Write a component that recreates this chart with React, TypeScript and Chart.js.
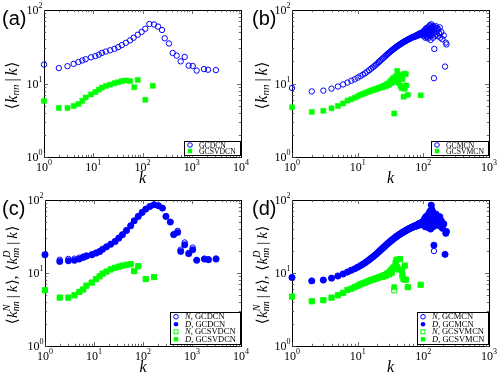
import React, { useEffect, useRef } from 'react';
import { Chart, registerables } from 'chart.js';
Chart.register(...registerables);

// ---------------- data ----------------
// panel (a)
const aBlueK = [1, 2, 3, 4, 5, 6, 7, 9, 11, 13, 15, 18, 22, 27, 32, 38, 46, 56, 66, 80, 96, 114, 138, 171, 207, 249, 282, 345, 410, 494, 596, 718, 866, 1045, 1259, 1774, 2138, 3093];
const aBlueY = [18.1, 16.2, 17.2, 18.5, 19.6, 20.6, 21.4, 22.7, 23.6, 24.7, 26.1, 27.2, 28.3, 29.6, 31.2, 33.3, 35.8, 38.6, 41.9, 46.1, 50.3, 55.6, 64.5, 63.5, 59.5, 53.5, 41.2, 35, 26, 24, 20, 23, 17.5, 17.3, 15, 15.7, 15.4, 15.2];
const aGreenK = [1, 2, 3, 4, 5, 6, 7, 9, 11, 13, 15, 18, 22, 27, 32, 38, 46, 56, 68, 80, 114, 161];
const aGreenY = [5.8, 4.65, 4.65, 4.95, 5.25, 5.8, 6.45, 7.1, 7.65, 8.25, 8.8, 9.25, 9.65, 10.1, 10.4, 10.8, 11.0, 10.8, 8.9, 11.2, 6.0, 9.3];

// panel (c)
const cBlueK = [1, 2, 3, 4, 5, 6, 7, 9, 11, 13, 15, 18, 22, 27, 32, 38, 46, 56, 66, 80, 96, 114, 138, 168, 207, 249, 294, 361, 423, 509, 588, 710, 857, 1033, 1247, 1790, 2170, 3100];
const cBlueDY = [17.8, 14.4, 14.7, 14.9, 15.5, 16.3, 17, 17.7, 18.7, 19.6, 21.1, 22.8, 24.8, 27, 30, 33.4, 38.2, 44.3, 51.8, 59.5, 67.5, 75, 81.5, 86, 83.4, 77.4, 59.5, 49.8, 33.5, 36, 19.7, 24.4, 18.4, 20.8, 14.9, 15.5, 15.2, 15.5];
const cBlueNY = [17.8, 15.2, 15.6, 15.7, 16.2, 16.8, 17.4, 18.1, 19.0, 19.9, 21.3, 23.0, 25.0, 27.2, 30.2, 33.6, 38.4, 44.5, 52, 59.8, 67.8, 75.3, 81.8, 86.3, 83.6, 77.6, 60, 50.3, 34, 37.8, 20.9, 26.2, 18.8, 22.3, 15.1, 15.7, 15.4, 15.8];
const cGreenK = [1, 2, 3, 4, 5, 6, 7, 9, 11, 13, 15, 18, 22, 27, 32, 38, 46, 56, 66, 80, 114, 168];
const cGreenDY = [5.8, 4.6, 4.6, 4.95, 5.5, 5.95, 6.7, 7.4, 8.25, 9.0, 9.8, 10.45, 11.2, 11.8, 12.2, 12.6, 12.95, 13.2, 10.6, 12.4, 8.25, 8.8];
const cGreenNY = [5.8, 4.6, 4.6, 4.95, 5.5, 5.95, 6.7, 7.4, 8.25, 9.0, 9.8, 10.45, 11.2, 11.8, 12.2, 12.6, 12.95, 13.2, 10.6, 12.4, 8.25, 8.8];

// panels (b) and (d): degree-by-degree values
const bodyK = [1, 2, 3, 4, 5, 6, 7, 8, 9, 10, 11, 12, 13, 14, 15, 16, 17, 18, 19, 20, 21, 22, 23, 24, 25, 26, 27, 28, 29, 30, 31, 32, 33, 34, 35, 36, 37, 38, 39, 40, 41, 42, 43, 44, 45, 46, 47, 48, 49, 50, 51, 52, 53, 54, 55, 56, 57, 58, 59, 60, 61, 62, 63, 64, 65, 66, 67, 68, 69, 70, 71, 72, 73, 74, 75, 76, 77, 78, 79, 80, 81, 82, 83, 84, 85, 86, 87, 88, 89, 90, 91, 92, 93, 94, 95, 96, 97, 98, 99, 100];
const bodyBlueY = [
  8.7, 7.8, 8.0, 8.5, 9.1, 9.7, 10.3, 10.9, 11.4, 12.0,
  12.6, 13.2, 13.8, 14.5, 15.2, 15.9, 16.6, 17.3, 18.0, 18.8,
  19.6, 20.3, 21.1, 21.8, 22.6, 23.3, 24.1, 24.8, 25.5, 26.2,
  26.8, 27.5, 28.1, 28.7, 29.3, 29.9, 30.5, 31.0, 31.6, 32.1,
  32.6, 33.1, 33.6, 34.0, 34.5, 34.9, 35.3, 35.8, 36.2, 36.6,
  37.0, 37.3, 37.7, 38.1, 38.4, 38.8, 39.1, 39.5, 39.8, 40.1,
  40.4, 40.7, 41.0, 41.4, 41.6, 41.9, 42.2, 42.5, 42.7, 43.0,
  43.3, 42.8, 43.8, 43.4, 44.3, 43.7, 44.8, 44.2, 45.2, 44.5,
  45.7, 45.0, 46.4, 45.3, 47.0, 45.5, 47.6, 46.1, 46.7, 48.3,
  45.8, 47.4, 48.8, 46.3, 48.1, 49.5, 46.6, 48.7, 50.3, 47.2
];
const bTailK = [101, 102, 103, 104, 105, 106, 107, 108, 109, 110, 111, 112, 113, 114, 115, 116, 117, 118, 119, 120, 121, 122, 123, 124, 125, 126, 127, 128, 129, 130, 131, 132, 133, 134, 135, 137, 138, 140, 141, 143, 145, 146, 147, 149, 151, 153, 156, 158, 160, 163, 166, 170, 174, 178, 182, 188, 195, 205, 214, 220, 225];
const bTailY = [51, 44, 48, 53, 46, 50, 42, 55, 47, 52, 45, 57, 49, 43, 54, 48, 51, 41, 58, 46, 53, 49, 60, 44, 55, 62, 47, 52, 39, 57, 50, 64, 45, 55, 59, 48, 53, 61, 42, 56, 11.8, 50, 29.5, 58, 45, 55, 60, 47, 52, 57, 44, 54, 48, 58, 42, 50, 40, 45, 17, 36, 34];
const dTailK = [101, 102, 103, 104, 105, 106, 107, 108, 109, 110, 111, 112, 113, 114, 115, 116, 117, 118, 119, 120, 121, 122, 123, 124, 125, 126, 127, 128, 129, 130, 131, 132, 133, 134, 135, 137, 138, 140, 141, 143, 145, 146, 149, 151, 153, 156, 158, 160, 163, 166, 170, 174, 178, 182, 188, 195, 205, 214, 220, 225];
const dTailDY = [52, 45, 49, 55, 47, 51, 43, 58, 48, 54, 46, 60, 50, 44, 57, 49, 53, 42, 63, 47, 55, 50, 66, 45, 58, 70, 48, 54, 40, 62, 51, 85, 46, 57, 74, 49, 55, 68, 43, 59, 24, 52, 61, 46, 57, 64, 48, 53, 60, 45, 56, 50, 59, 44, 52, 41, 47, 18, 35, 37];
const dTailNY = [52, 45, 49, 55, 47, 51, 43, 58, 48, 54, 46, 60, 50, 44, 57, 49, 53, 42, 63, 47, 55, 50, 66, 45, 58, 70, 48, 54, 40, 62, 51, 85, 46, 57, 74, 49, 55, 68, 43, 59, 20, 52, 61, 46, 57, 64, 48, 53, 60, 45, 56, 50, 59, 44, 52, 41, 47, 18, 35, 37];

const greenBodyK = [1, 2, 3, 4, 5, 6, 7, 8, 9, 10, 11, 12, 13, 14, 15, 16, 17, 18, 19, 20, 21, 22, 23, 24, 25, 26, 27, 28, 29, 30, 31, 32, 33, 34, 35];
const greenBodyY = [4.75, 4.1, 4.25, 4.6, 4.95, 5.35, 5.85, 6.1, 6.4, 6.7, 7.0, 7.2, 7.4, 7.6, 7.8, 8.0, 8.1, 8.3, 8.4, 8.5, 8.7, 8.8, 9.0, 8.9, 9.3, 9.4, 9.2, 9.8, 10.0, 9.6, 10.4, 10.9, 10.1, 11.4, 11.9];
const bGreenTailK = [36, 37, 38, 39, 40, 41, 42, 44, 45, 47, 48, 50, 51, 52, 54, 55, 58, 91];
const bGreenTailY = [3.9, 10.7, 12.5, 11.3, 14.8, 11.6, 10.2, 13.0, 9.3, 8.6, 11.5, 6.6, 13.6, 8.5, 13.4, 9.4, 7.0, 6.9];
const dGreenTailK = [36, 37, 38, 39, 40, 42, 44, 47, 48, 50, 52, 54, 58, 91];
const dGreenTailDY = [6.4, 12.3, 13.8, 15.2, 12.0, 11.2, 15.5, 11.0, 9.5, 8.2, 12.6, 8.1, 6.4, 6.9];
const dGreenTailNY = [5.8, 12.3, 13.8, 15.2, 12.0, 11.2, 15.5, 11.0, 9.0, 8.2, 12.6, 8.1, 6.4, 6.9];

// tick exponents (labels 10^e)
const xExpWide = [0, 1, 2, 3, 4];
const xExpNarrow = [0, 1, 2, 3];
const yExp = [0, 1, 2];

// ---------------- helpers ----------------
const BLUE = '#0000ff';
const GREEN = '#00ff00';
const SERIF = '"Liberation Serif", "DejaVu Serif", serif';

type Pt = { x: number; y: number };
const pts = (k: number[], y: number[]): Pt[] => k.map((x, i) => ({ x, y: y[i] }));

type Style = 'oc' | 'fc' | 'os' | 'fs';
function ds(data: Pt[], st: Style) {
  const circle = st[1] === 'c';
  const filled = st[0] === 'f';
  const color = circle ? BLUE : GREEN;
  return {
    data,
    showLine: false,
    clip: false as any,
    pointStyle: circle ? 'circle' : 'rect',
    pointRadius: circle ? (filled ? 3.2 : 2.7) : 3.6,
    pointBorderWidth: filled ? 0.5 : 1,
    pointBackgroundColor: filled ? color : 'rgba(0,0,0,0)',
    pointBorderColor: color,
    borderColor: color,
    backgroundColor: color,
  };
}

type Run = { t: string; sz: number; it?: boolean; dy?: number; adv?: boolean; gap?: number };
const runFont = (r: Run) => `${r.it ? 'italic ' : ''}${r.sz}px ${SERIF}`;
function runsWidth(ctx: CanvasRenderingContext2D, runs: Run[]) {
  let w = 0;
  for (const r of runs) {
    ctx.font = runFont(r);
    if (r.adv !== false) w += ctx.measureText(r.t).width + (r.gap || 0);
  }
  return w;
}
function drawRuns(ctx: CanvasRenderingContext2D, runs: Run[], x: number, y: number) {
  let cx = x;
  for (const r of runs) {
    ctx.font = runFont(r);
    ctx.fillText(r.t, cx, y + (r.dy || 0));
    if (r.adv !== false) cx += ctx.measureText(r.t).width + (r.gap || 0);
  }
}
function knnRuns(sz: number, sup?: string): Run[] {
  const sub = Math.round(sz * 0.68);
  const r: Run[] = [
    { t: '⟨', sz, gap: 0.5 },
    { t: 'k', sz, it: true },
  ];
  if (sup) r.push({ t: sup, sz: sub, it: true, dy: -sz * 0.38, adv: false });
  r.push({ t: 'nn', sz: sub, it: true, dy: sz * 0.22, gap: 3 });
  r.push({ t: '|', sz, gap: 3 });
  r.push({ t: 'k', sz, it: true, gap: 0.5 });
  r.push({ t: '⟩', sz });
  return r;
}

type Series = { data: Pt[]; style: Style; pre?: string; name: string };
type Panel = {
  tag: string; x: number; y: number; w: number; h: number;
  area: { left: number; right: number; top: number; bottom: number };
  xMaxExp: number; xExp: number[]; double: boolean; legendFont: number; rowH: number;
  series: Series[];
};

function decor(p: Panel) {
  return {
    id: 'decor' + p.tag,
    beforeDatasetsDraw(chart: any) {
      const { ctx, chartArea: a, scales } = chart;
      ctx.save();
      ctx.strokeStyle = '#000';
      ctx.lineWidth = 1;
      ctx.strokeRect(a.left + 0.5, a.top + 0.5, a.right - a.left, a.bottom - a.top);
      ctx.strokeStyle = '#444';
      ctx.lineWidth = 0.8;
      ctx.beginPath();
      for (let e = 0; e < p.xMaxExp; e++) {
        for (let m = 1; m <= 9; m++) {
          const px = Math.round(scales.x.getPixelForValue(m * 10 ** e)) + 0.5;
          const len = m === 1 ? 4 : 2.2;
          ctx.moveTo(px, a.bottom); ctx.lineTo(px, a.bottom - len);
          ctx.moveTo(px, a.top); ctx.lineTo(px, a.top + len);
        }
      }
      for (let e = 0; e < 2; e++) {
        for (let m = 1; m <= 9; m++) {
          const py = Math.round(scales.y.getPixelForValue(m * 10 ** e)) + 0.5;
          const len = m === 1 ? 4 : 2.2;
          ctx.moveTo(a.left, py); ctx.lineTo(a.left + len, py);
          ctx.moveTo(a.right, py); ctx.lineTo(a.right - len, py);
        }
      }
      ctx.stroke();
      ctx.restore();
    },
    afterDraw(chart: any) {
      const { ctx, chartArea: a, scales } = chart;
      ctx.save();
      ctx.fillStyle = '#000';
      ctx.textBaseline = 'middle';
      ctx.textAlign = 'left';
      const baseF = `12px ${SERIF}`;
      const expF = `8px ${SERIF}`;
      // x tick labels
      for (const e of p.xExp) {
        const px = scales.x.getPixelForValue(10 ** e);
        ctx.font = baseF; const w1 = ctx.measureText('10').width;
        ctx.font = expF; const w2 = ctx.measureText(String(e)).width;
        const sx = px - (w1 + w2) / 2;
        ctx.font = baseF; ctx.fillText('10', sx, a.bottom + 11);
        ctx.font = expF; ctx.fillText(String(e), sx + w1, a.bottom + 6);
      }
      // y tick labels
      for (const e of yExp) {
        const py = scales.y.getPixelForValue(10 ** e);
        ctx.font = baseF; const w1 = ctx.measureText('10').width;
        ctx.font = expF; const w2 = ctx.measureText(String(e)).width;
        const sx = a.left - 1.5 - w1 - w2;
        ctx.font = baseF; ctx.fillText('10', sx, py + 1);
        ctx.font = expF; ctx.fillText(String(e), sx + w1, py - 4);
      }
      // x title
      ctx.font = `italic 16px ${SERIF}`;
      ctx.textAlign = 'center';
      ctx.fillText('k', (a.left + a.right) / 2, a.bottom + 22);
      ctx.textAlign = 'left';
      // y title
      const runs: Run[] = p.double
        ? [...knnRuns(15, 'N'), { t: ', ', sz: 15, gap: 1 }, ...knnRuns(15, 'D')]
        : knnRuns(16);
      const tw = runsWidth(ctx, runs);
      ctx.save();
      ctx.translate(13, (a.top + a.bottom) / 2 + 2);
      ctx.rotate(-Math.PI / 2);
      drawRuns(ctx, runs, -tw / 2, 0);
      ctx.restore();
      // panel tag
      ctx.font = `20px "Liberation Sans", Arial, sans-serif`;
      ctx.fillText(`(${p.tag})`, 2, a.top + 9);
      // legend
      const lf = p.legendFont;
      let maxW = 0;
      for (const s of p.series) {
        let w = 0;
        if (s.pre) { ctx.font = `italic ${lf}px ${SERIF}`; w += ctx.measureText(s.pre).width; }
        ctx.font = `${lf}px ${SERIF}`; w += ctx.measureText(s.name).width;
        maxW = Math.max(maxW, w);
      }
      const bw = Math.round(15 + maxW + 4);
      const bh = Math.round(p.series.length * p.rowH + 2);
      const bx = Math.round(a.right - 1 - bw);
      const by = Math.round(a.bottom - 2 - bh);
      ctx.fillStyle = '#fff';
      ctx.fillRect(bx, by, bw, bh);
      ctx.strokeStyle = '#000';
      ctx.lineWidth = 1;
      ctx.strokeRect(bx + 0.5, by + 0.5, bw, bh);
      p.series.forEach((s, i) => {
        const cy = by + 1 + p.rowH * (i + 0.5);
        const mx = bx + 6;
        const circle = s.style[1] === 'c';
        const filled = s.style[0] === 'f';
        const col = circle ? BLUE : GREEN;
        ctx.fillStyle = col; ctx.strokeStyle = col; ctx.lineWidth = 1;
        if (circle) {
          ctx.beginPath(); ctx.arc(mx, cy, 2.3, 0, Math.PI * 2);
          if (filled) ctx.fill(); else ctx.stroke();
        } else {
          if (filled) ctx.fillRect(mx - 2.2, cy - 2.2, 4.4, 4.4);
          else ctx.strokeRect(mx - 2, cy - 2, 4, 4);
        }
        ctx.fillStyle = '#000';
        let tx = bx + 15;
        if (s.pre) {
          ctx.font = `italic ${lf}px ${SERIF}`;
          ctx.fillText(s.pre, tx, cy + 0.5);
          tx += ctx.measureText(s.pre).width;
        }
        ctx.font = `${lf}px ${SERIF}`;
        ctx.fillText(s.name, tx, cy + 0.5);
      });
      ctx.restore();
    },
  };
}

const panels: Panel[] = [
  {
    tag: 'a', x: 0, y: 0, w: 250, h: 189,
    area: { left: 44, right: 241, top: 10, bottom: 157 },
    xMaxExp: 4, xExp: xExpWide, double: false, legendFont: 7.7, rowH: 6,
    series: [
      { data: pts(aBlueK, aBlueY), style: 'oc', name: 'GCDCN' },
      { data: pts(aGreenK, aGreenY), style: 'fs', name: 'GCSVDCN' },
    ],
  },
  {
    tag: 'b', x: 250, y: 0, w: 249, h: 189,
    area: { left: 42, right: 239, top: 10, bottom: 157 },
    xMaxExp: 3, xExp: xExpNarrow, double: false, legendFont: 7.7, rowH: 6,
    series: [
      { data: [...pts(bodyK, bodyBlueY), ...pts(bTailK, bTailY)], style: 'oc', name: 'GCMCN' },
      { data: [...pts(greenBodyK, greenBodyY), ...pts(bGreenTailK, bGreenTailY)], style: 'fs', name: 'GCSVMCN' },
    ],
  },
  {
    tag: 'c', x: 0, y: 189, w: 250, h: 189,
    area: { left: 45, right: 241, top: 11, bottom: 157 },
    xMaxExp: 4, xExp: xExpWide, double: true, legendFont: 8.5, rowH: 7.5,
    series: [
      { data: pts(cBlueK, cBlueNY), style: 'oc', pre: 'N', name: ', GCDCN' },
      { data: pts(cBlueK, cBlueDY), style: 'fc', pre: 'D', name: ', GCDCN' },
      { data: pts(cGreenK, cGreenNY), style: 'os', pre: 'N', name: ', GCSVDCN' },
      { data: pts(cGreenK, cGreenDY), style: 'fs', pre: 'D', name: ', GCSVDCN' },
    ],
  },
  {
    tag: 'd', x: 250, y: 189, w: 249, h: 189,
    area: { left: 42, right: 239, top: 11, bottom: 157 },
    xMaxExp: 3, xExp: xExpNarrow, double: true, legendFont: 8.5, rowH: 7.5,
    series: [
      { data: [...pts(bodyK, bodyBlueY), ...pts(dTailK, dTailNY)], style: 'oc', pre: 'N', name: ', GCMCN' },
      { data: [...pts(bodyK, bodyBlueY), ...pts(dTailK, dTailDY)], style: 'fc', pre: 'D', name: ', GCMCN' },
      { data: [...pts(greenBodyK, greenBodyY), ...pts(dGreenTailK, dGreenTailNY)], style: 'os', pre: 'N', name: ', GCSVMCN' },
      { data: [...pts(greenBodyK, greenBodyY), ...pts(dGreenTailK, dGreenTailDY)], style: 'fs', pre: 'D', name: ', GCSVMCN' },
    ],
  },
];

function PanelChart({ p }: { p: Panel }) {
  const ref = useRef<HTMLCanvasElement>(null);
  useEffect(() => {
    const canvas = ref.current!;
    // later datasets are drawn first; reverse so filled (D) sits on top of open (N)
    const datasets = p.series.map((s) => ds(s.data, s.style)).reverse();
    const chart = new Chart(canvas, {
      type: 'scatter',
      data: { datasets } as any,
      options: {
        responsive: false,
        animation: false,
        events: [],
        devicePixelRatio: 1,
        layout: { padding: { top: p.area.top, right: p.w - p.area.right, left: 0, bottom: 0 } },
        plugins: { legend: { display: false }, tooltip: { enabled: false } },
        scales: {
          x: {
            type: 'logarithmic', min: 1, max: 10 ** p.xMaxExp,
            ticks: { display: false }, grid: { display: false }, border: { display: false },
            afterFit: (s: any) => { s.height = p.h - p.area.bottom; },
          },
          y: {
            type: 'logarithmic', min: 1, max: 100,
            ticks: { display: false }, grid: { display: false }, border: { display: false },
            afterFit: (s: any) => { s.width = p.area.left; },
          },
        },
      } as any,
      plugins: [decor(p)],
    });
    return () => chart.destroy();
  }, []);
  return (
    <canvas
      ref={ref}
      width={p.w}
      height={p.h}
      style={{ position: 'absolute', left: p.x, top: p.y, width: p.w, height: p.h }}
    />
  );
}

export default function App() {
  return (
    <div style={{ position: 'fixed', left: 0, top: 0, width: 499, height: 378, background: '#fff', overflow: 'hidden' }}>
      {panels.map((p) => (
        <PanelChart key={p.tag} p={p} />
      ))}
    </div>
  );
}
